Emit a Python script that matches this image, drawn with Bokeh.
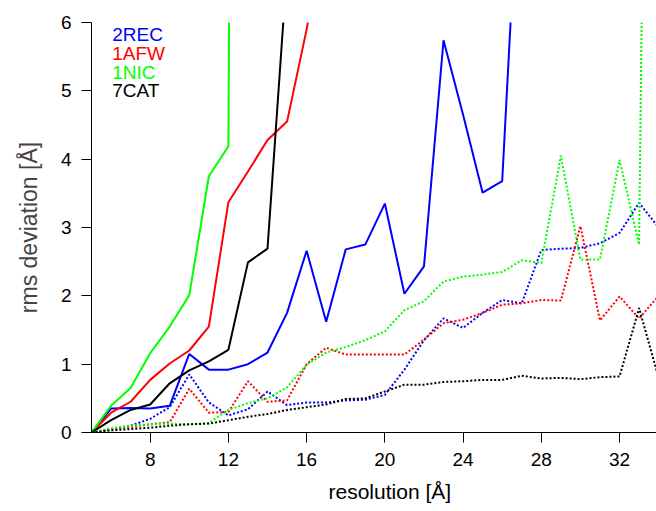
from bokeh.plotting import figure
from bokeh.models import Range1d, Title, FixedTicker
from bokeh.core.properties import value
from bokeh.embed import file_html
from bokeh.resources import INLINE

# ---- data ----
res_all = list(range(5, 35))

rec_x = list(range(5, 28))
rec_solid = [0, 0.35, 0.36, 0.35, 0.39, 1.15, 0.92, 0.92, 1.0, 1.17, 1.75, 2.66,
             1.62, 2.68, 2.75, 3.35, 2.03, 2.43, 5.74, 4.65, 3.51, 3.68, 9.1]
afw_x = list(range(5, 18))
afw_solid = [0, 0.29, 0.45, 0.77, 1.01, 1.2, 1.55, 3.37, 3.82, 4.28, 4.55, 5.9, 7.5]
nic_x = list(range(5, 14))
nic_solid = [0, 0.39, 0.65, 1.16, 1.55, 2.01, 3.75, 4.19, 60]
cat_x = list(range(5, 16))
cat_solid = [0, 0.18, 0.33, 0.41, 0.72, 0.91, 1.04, 1.21, 2.49, 2.69, 6.8]

rec_dot = [0, 0.05, 0.1, 0.2, 0.37, 0.85, 0.44, 0.25, 0.34, 0.6, 0.4, 0.44, 0.44,
           0.47, 0.48, 0.55, 0.92, 1.35, 1.67, 1.53, 1.75, 1.94, 1.89, 2.67, 2.69,
           2.70, 2.77, 2.92, 3.36, 3.0]
afw_dot = [0, 0.05, 0.08, 0.12, 0.15, 0.64, 0.29, 0.3, 0.75, 0.45, 0.47, 1.0, 1.24,
           1.14, 1.14, 1.14, 1.14, 1.36, 1.6, 1.65, 1.75, 1.87, 1.89, 1.94, 1.93,
           3.02, 1.64, 1.99, 1.67, 2.0]
nic_dot = [0, 0.06, 0.1, 0.12, 0.13, 0.12, 0.14, 0.33, 0.43, 0.5, 0.66, 0.99, 1.17,
           1.25, 1.35, 1.48, 1.79, 1.92, 2.21, 2.28, 2.31, 2.35, 2.52, 2.48, 4.05,
           2.53, 2.53, 3.99, 2.75, 28]
cat_dot = [0, 0.03, 0.05, 0.07, 0.1, 0.12, 0.13, 0.18, 0.23, 0.27, 0.33, 0.37, 0.41,
           0.49, 0.5, 0.6, 0.7, 0.7, 0.74, 0.75, 0.77, 0.77, 0.83, 0.79, 0.8, 0.78,
           0.81, 0.82, 1.82, 0.8]

names = ["2REC", "1AFW", "1NIC", "7CAT"]
colors = ["#0000FF", "#FF0000", "#00FF00", "#000000"]
x_ticks = [8, 12, 16, 20, 24, 28, 32]
y_ticks = [0, 1, 2, 3, 4, 5, 6]

FONT = "Liberation Sans"

p = figure(width=656, height=511, output_backend="svg", toolbar_location=None,
           x_range=Range1d(5, 33.89), y_range=Range1d(0, 6),
           min_border_left=91, min_border_right=0, min_border_top=22,
           min_border_bottom=79, title=None)
p.outline_line_color = None
p.grid.visible = False
p.background_fill_color = "white"
p.border_fill_color = "white"

for ax in (p.xaxis, p.yaxis):
    ax.major_tick_out = 10
    ax.major_tick_in = 0
    ax.minor_tick_line_color = None
    ax.axis_line_color = "black"
    ax.major_tick_line_color = "black"
    ax.major_label_text_font = FONT
    ax.major_label_text_font_size = "19px"
    ax.major_label_text_color = "black"
    ax.major_label_standoff = 10

p.xaxis.ticker = FixedTicker(ticks=x_ticks)
p.yaxis.ticker = FixedTicker(ticks=y_ticks)
p.yaxis.axis_label = "rms deviation [Å]"
p.yaxis.axis_label_text_font = FONT
p.yaxis.axis_label_text_font_style = "normal"
p.yaxis.axis_label_text_font_size = "23px"
p.yaxis.axis_label_standoff = 16

solids = [(rec_x, rec_solid), (afw_x, afw_solid), (nic_x, nic_solid), (cat_x, cat_solid)]
for (xs, ys), c in zip(solids, colors):
    p.line(xs, ys, line_color=c, line_width=2)

dots = [rec_dot, afw_dot, nic_dot, cat_dot]
for ys, c in zip(dots, colors):
    p.line(res_all, ys, line_color=c, line_width=2, line_dash="2 2")

# legend texts
leg_y = [5.82, 5.545, 5.27, 5.0]
p.text(x=[6.06] * 4, y=leg_y, text=names, text_color=colors,
       text_font=value(FONT), text_font_size="19px",
       text_baseline="alphabetic", text_align="left")

xlab = Title(text="resolution [Å]", align="left", offset=237, standoff=18,
             text_font=FONT, text_font_size="21px", text_font_style="normal",
             text_color="black", text_line_height=0.8)
p.add_layout(xlab, "below")

open("out.html", "w").write(file_html(p, INLINE))
